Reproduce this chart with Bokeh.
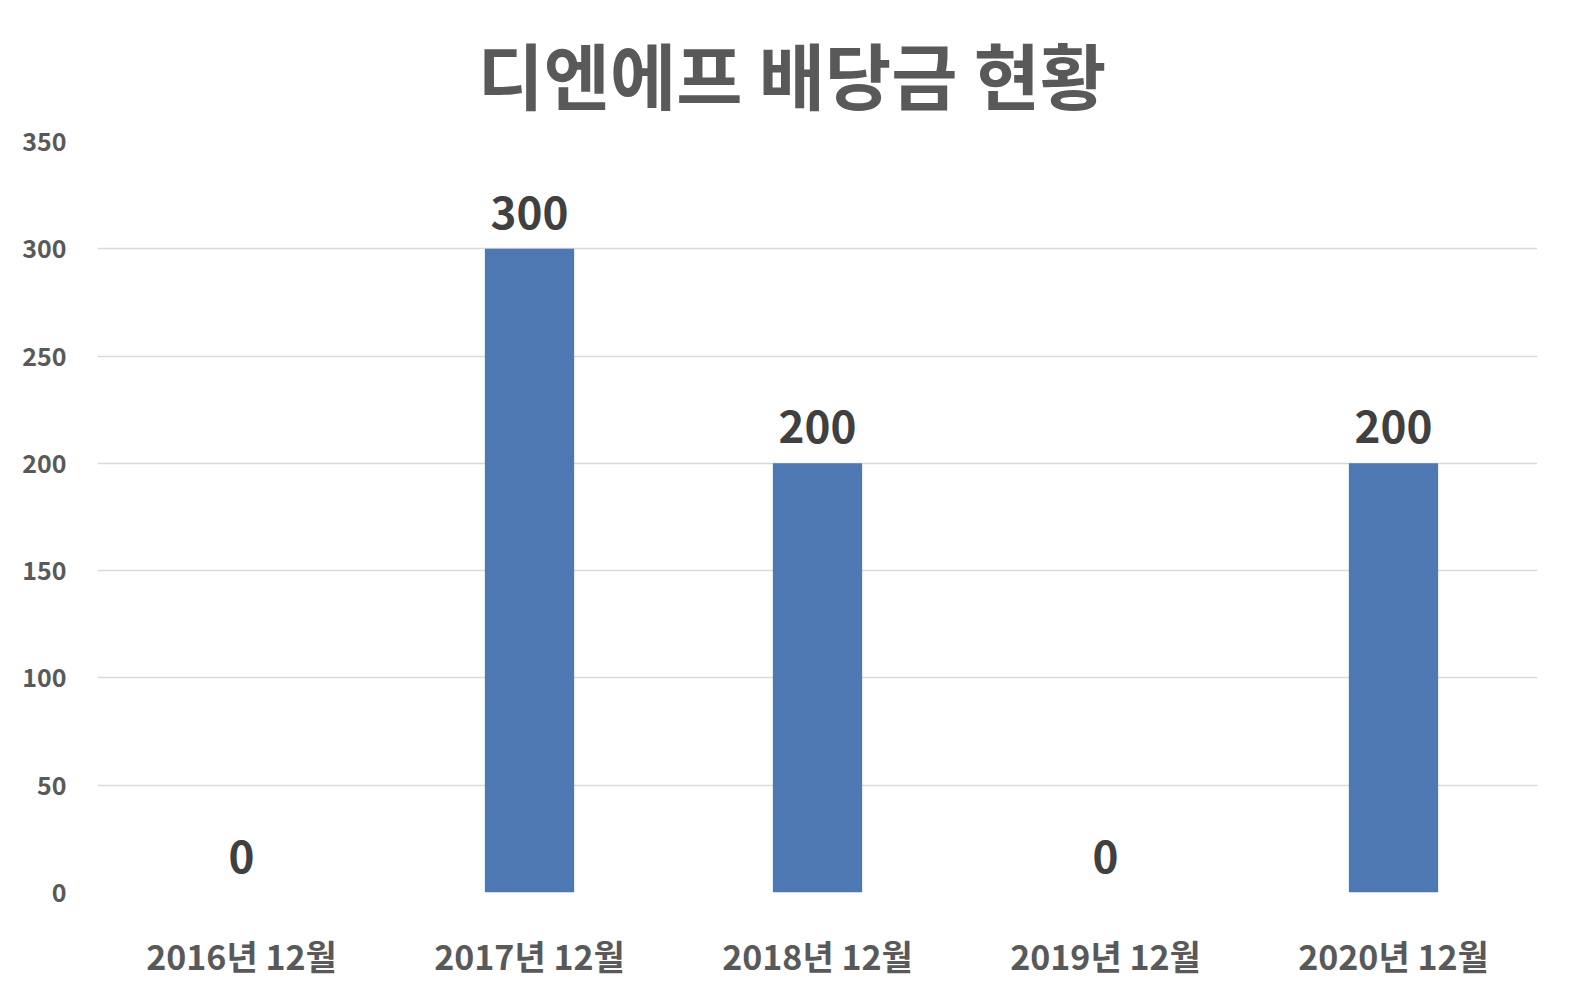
from bokeh.plotting import figure
from bokeh.models import ColumnDataSource, Range1d, FixedTicker, LabelSet
from bokeh.core.properties import value
from bokeh.embed import file_html
from bokeh.resources import INLINE

title = "디엔에프 배당금 현황"
categories = ["2016년 12월", "2017년 12월", "2018년 12월", "2019년 12월", "2020년 12월"]
values = [0, 300, 200, 0, 200]
labels = ["0", "300", "200", "0", "200"]
y_ticks = [0, 50, 100, 150, 200, 250, 300, 350]

FONT = "Noto Sans CJK KR"

src = ColumnDataSource(dict(cat=categories, val=values, lab=labels))

p = figure(x_range=categories, y_range=Range1d(0, 350), width=1569, height=1003,
           output_backend="svg", toolbar_location=None, title=title,
           min_border_left=97, min_border_right=32, min_border_top=141, min_border_bottom=111)
p.outline_line_color = None
p.background_fill_color = "white"
p.border_fill_color = "white"

p.title.text_font = FONT
p.title.text_font_size = "72px"
p.title.text_font_style = "bold"
p.title.text_color = "#595959"
p.title.align = "left"
p.title.offset = 380
p.title.standoff = 33

p.vbar(x="cat", top="val", width=0.31, source=src, fill_color="#4E78B1", line_color=None)

p.add_layout(LabelSet(x="cat", y="val", text="lab", source=src, text_align="center",
                      text_baseline="bottom", y_offset=20, text_font=value(FONT),
                      text_font_size="44px", text_font_style="bold", text_color="#404040"))

p.yaxis.ticker = FixedTicker(ticks=y_ticks)
p.yaxis.major_label_text_font = FONT
p.yaxis.major_label_text_font_size = "25px"
p.yaxis.major_label_text_font_style = "bold"
p.yaxis.major_label_text_color = "#595959"
p.yaxis.major_label_standoff = 25
p.xaxis.major_label_text_font = FONT
p.xaxis.major_label_text_font_size = "34px"
p.xaxis.major_label_text_font_style = "bold"
p.xaxis.major_label_text_color = "#595959"
p.xaxis.major_label_standoff = 32
for ax in (p.xaxis, p.yaxis):
    ax.axis_line_color = None
    ax.major_tick_line_color = None
    ax.minor_tick_line_color = None
p.xgrid.grid_line_color = None
p.ygrid.grid_line_color = "#D9D9D9"
p.ygrid.grid_line_width = 1.5

open("out.html", "w").write(file_html(p, INLINE))
